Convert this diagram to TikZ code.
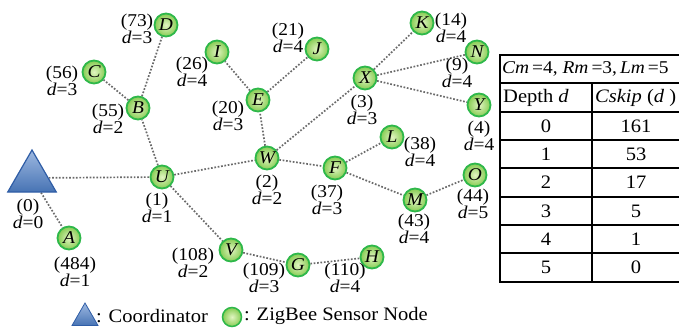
\documentclass[tikz,border=0pt]{standalone}
\usepackage{fontspec}
\setmainfont[FakeStretch=1.08]{Liberation Serif}
\usetikzlibrary{shapes.geometric}
\pgfdeclarelayer{bg}\pgfsetlayers{bg,main}
\definecolor{nodegreen}{HTML}{2EB84A}
\definecolor{fillin}{HTML}{E2F5C2}
\definecolor{fillout}{HTML}{86CC52}
\definecolor{triblue}{HTML}{4F80C8}
\definecolor{triedge}{HTML}{2F5DA6}
\definecolor{linkgray}{HTML}{6A6A6A}
\tikzset{
 sensor/.style={circle, minimum size=23pt, inner sep=0pt, line width=1.8pt, draw=nodegreen, inner color=fillin, outer color=fillout, font=\rmfamily\fontsize{18}{18}\selectfont\itshape},
 coordtri/.style={regular polygon, regular polygon sides=3, minimum size=56pt, inner sep=0pt, draw=triedge, line width=1.2pt, top color=triblue!55!white, bottom color=triblue!90!black},
 lab/.style={align=center, inner sep=0pt, font=\rmfamily\fontsize{18}{15.5}\selectfont},
 link/.style={draw=linkgray, line width=1.7pt, dash pattern=on 1.7pt off 1.7pt},
 tabline/.style={line width=1.6pt},
 cell/.style={inner sep=0pt, font=\rmfamily\fontsize{19}{19}\selectfont},
 legend/.style={inner sep=0pt, anchor=west, font=\rmfamily\fontsize{19}{19}\selectfont},
}
\begin{document}
\begin{tikzpicture}[x=1pt,y=-1pt]
\useasboundingbox (0,0) rectangle (679,329);
% coordinator
\node[coordtri] (T) at (32,178) {};
% sensor nodes
\node[sensor] (A) at (69,238) {A};
\node[sensor] (U) at (162,177) {U};
\node[sensor] (B) at (138,108) {B};
\node[sensor] (C) at (94,72) {C};
\node[sensor] (D) at (166,25) {D};
\node[sensor] (I) at (217,52) {I};
\node[sensor] (E) at (258,100) {E};
\node[sensor] (J) at (317,49) {J};
\node[sensor] (W) at (267,158) {W};
\node[sensor] (X) at (365,78) {X};
\node[sensor] (K) at (422,23) {K};
\node[sensor] (N) at (477,52) {N};
\node[sensor] (Y) at (479,105) {Y};
\node[sensor] (L) at (392,137) {L};
\node[sensor] (F) at (335,168) {F};
\node[sensor] (M) at (415,200) {M};
\node[sensor] (O) at (475,175) {O};
\node[sensor] (V) at (231,250) {V};
\node[sensor] (G) at (298,265) {G};
\node[sensor] (H) at (372,257) {H};
% links
\begin{pgfonlayer}{bg}
\foreach \a/\b in {T/U,T/A,U/B,B/C,B/D,U/W,U/V,W/E,E/I,E/J,W/X,X/K,X/N,X/Y,W/F,F/L,F/M,M/O,V/G,G/H}
  \draw[link] (\a) -- (\b);
\end{pgfonlayer}
% labels
\node[lab] (lT) at (28,214) {(0)\\\textit{d}=0};
\node[lab] (lA) at (75,272) {(484)\\\textit{d}=1};
\node[lab] (lU) at (157,208) {(1)\\\textit{d}=1};
\node[lab] (lB) at (108,119) {(55)\\\textit{d}=2};
\node[lab] (lC) at (62,81) {(56)\\\textit{d}=3};
\node[lab] (lD) at (137,29) {(73)\\\textit{d}=3};
\node[lab] (lI) at (192,72) {(26)\\\textit{d}=4};
\node[lab] (lE) at (228,116) {(20)\\\textit{d}=3};
\node[lab] (lJ) at (288,38) {(21)\\\textit{d}=4};
\node[lab] (lX) at (362,110) {(3)\\\textit{d}=3};
\node[lab] (lK) at (451,28) {(14)\\\textit{d}=4};
\node[lab] (lN) at (457,73) {(9)\\\textit{d}=4};
\node[lab] (lY) at (479,136) {(4)\\\textit{d}=4};
\node[lab] (lL) at (420,152) {(38)\\\textit{d}=4};
\node[lab] (lF) at (327,200) {(37)\\\textit{d}=3};
\node[lab] (lM) at (414,229) {(43)\\\textit{d}=4};
\node[lab] (lO) at (473,204) {(44)\\\textit{d}=5};
\node[lab] (lW) at (267,190) {(2)\\\textit{d}=2};
\node[lab] (lV) at (193,263) {(108)\\\textit{d}=2};
\node[lab] (lG) at (264,278) {(109)\\\textit{d}=3};
\node[lab] (lH) at (345,278) {(110)\\\textit{d}=4};
% table
\draw[tabline] (679,55) -- (500,55) -- (500,282) -- (679,282);
\foreach \yy in {83,112,140,168,197,225,253}
  \draw[tabline] (500,\yy) -- (679,\yy);
\draw[tabline] (592,83) -- (592,282);
\node[cell, anchor=west, font=\rmfamily\fontsize{18}{18}\selectfont] (title) at (502,69) {\textit{Cm}\,=4, \textit{Rm}\,=3,\,\textit{Lm}\,=5};
\node[cell, anchor=west] (h1) at (503,97.5) {Depth \textit{d}};
\node[cell, anchor=west] (h2) at (595,97.5) {\textit{Cskip} (\textit{d} )};
\foreach \dd/\cs/\yy in {0/161/126,1/53/154,2/17/182.5,3/5/211,4/1/239,5/0/267.5}{
  \node[cell] (d\dd) at (546,\yy) {\dd};
  \node[cell] (c\dd) at (636,\yy) {\cs};
}
% legend
\node[coordtri, minimum size=30pt, line width=0.8pt] (legT) at (85,318) {};
\node[legend] (legTt) at (96,316) {: Coordinator};
\node[sensor, minimum size=19pt, line width=1.5pt] (legS) at (232,317) {};
\node[legend] (legSt) at (244,316) {: ZigBee Sensor Node};
\end{tikzpicture}
\end{document}
